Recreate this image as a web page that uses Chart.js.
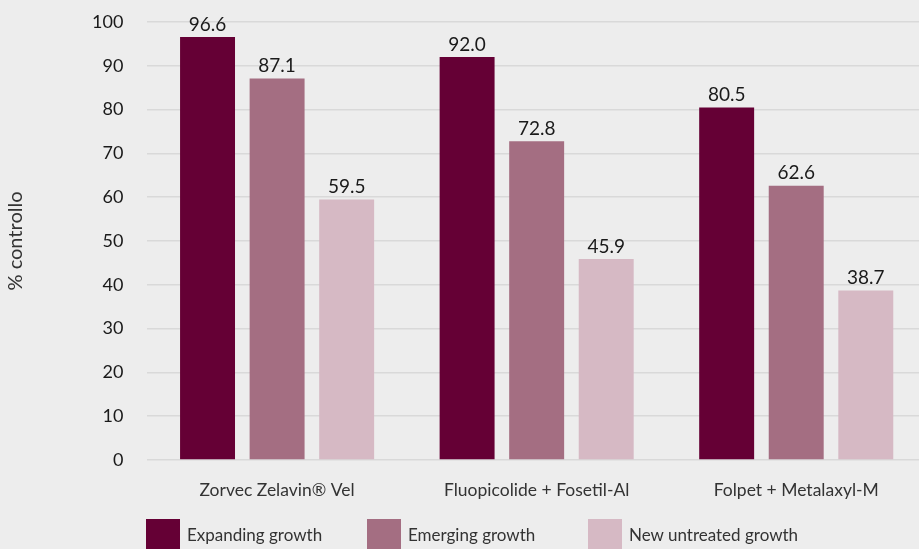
<!DOCTYPE html>
<html lang="it">
<head>
    <meta charset="UTF-8">
    <title>% controllo</title>
    <script src="https://cdn.jsdelivr.net/npm/chart.js"></script>
    <style>
        html, body {
            margin: 0;
            padding: 0;
            background-color: #ededed;
            overflow: hidden;
            font-family: Lato, "Open Sans", sans-serif;
        }

        .chart-wrap {
            position: absolute;
            left: 0;
            top: 0;
            width: 926px;
            height: 521px;
        }

        .legend {
            position: absolute;
            left: 146px;
            top: 519px;
            display: flex;
        }

        .legend-item {
            display: flex;
            align-items: center;
            min-width: 221px;
            font-size: 17px;
            color: #333;
        }

        .legend-box {
            width: 34px;
            height: 30px;
            margin-right: 7px;
        }
    </style>
</head>
<body>
    <div class="chart-wrap">
        <canvas id="chart" width="926" height="521"></canvas>
    </div>
    <div class="legend" id="legend"></div>

    <script>
        const categories = ['Zorvec Zelavin\u00AE Vel', 'Fluopicolide + Fosetil-Al', 'Folpet + Metalaxyl-M'];
        const seriesNames = ['Expanding growth', 'Emerging growth', 'New untreated growth'];
        const expanding = [96.6, 92.0, 80.5];
        const emerging = [87.1, 72.8, 62.6];
        const untreated = [59.5, 45.9, 38.7];
        const colors = ['#650035', '#a46e82', '#d6b9c4'];

        const fontFamily = 'Lato, "Open Sans", sans-serif';

        // scrive il valore sopra ogni barra
        const valueLabels = {
            id: 'valueLabels',
            afterDatasetsDraw(chart) {
                const ctx = chart.ctx;
                ctx.save();
                ctx.font = '19px ' + fontFamily;
                ctx.fillStyle = '#1a1a1a';
                ctx.textAlign = 'center';
                ctx.textBaseline = 'bottom';
                chart.data.datasets.forEach((ds, i) => {
                    chart.getDatasetMeta(i).data.forEach((bar, j) => {
                        ctx.fillText(ds.data[j].toFixed(1), bar.x, bar.y - 3);
                    });
                });
                ctx.restore();
            }
        };

        const values = [expanding, emerging, untreated];

        new Chart(document.getElementById('chart'), {
            type: 'bar',
            data: {
                labels: categories,
                datasets: seriesNames.map((name, i) => ({
                    label: name,
                    data: values[i],
                    backgroundColor: colors[i],
                    categoryPercentage: 0.804,
                    barPercentage: 0.79
                }))
            },
            options: {
                responsive: false,
                animation: false,
                layout: {
                    padding: { top: 2, left: 4, right: 0, bottom: 0 }
                },
                plugins: {
                    tooltip: { enabled: false },
                    legend: { display: false }
                },
                scales: {
                    x: {
                        grid: { display: false, drawTicks: false },
                        border: { display: false },
                        ticks: {
                            color: '#333',
                            padding: 20,
                            maxRotation: 0,
                            font: { family: fontFamily, size: 17.5 }
                        }
                    },
                    y: {
                        min: 0,
                        max: 100,
                        ticks: {
                            stepSize: 10,
                            color: '#1a1a1a',
                            padding: 24,
                            font: { family: fontFamily, size: 18 }
                        },
                        grid: {
                            color: '#d9d9d9',
                            lineWidth: 1.5,
                            drawTicks: false
                        },
                        border: { display: false },
                        title: {
                            display: true,
                            text: '% controllo',
                            color: '#333',
                            padding: { top: 0, bottom: 40 },
                            font: { family: fontFamily, size: 20 }
                        },
                        // la padding dei tick non deve spostare in basso l'area del grafico
                        afterFit(scale) {
                            scale.paddingTop = 22;
                        }
                    }
                }
            },
            plugins: [valueLabels]
        });

        // legenda in HTML sotto il grafico
        const legend = document.getElementById('legend');
        seriesNames.forEach((name, i) => {
            const item = document.createElement('div');
            item.className = 'legend-item';
            const box = document.createElement('span');
            box.className = 'legend-box';
            box.style.backgroundColor = colors[i];
            item.appendChild(box);
            item.appendChild(document.createTextNode(name));
            legend.appendChild(item);
        });
    </script>
</body>
</html>
